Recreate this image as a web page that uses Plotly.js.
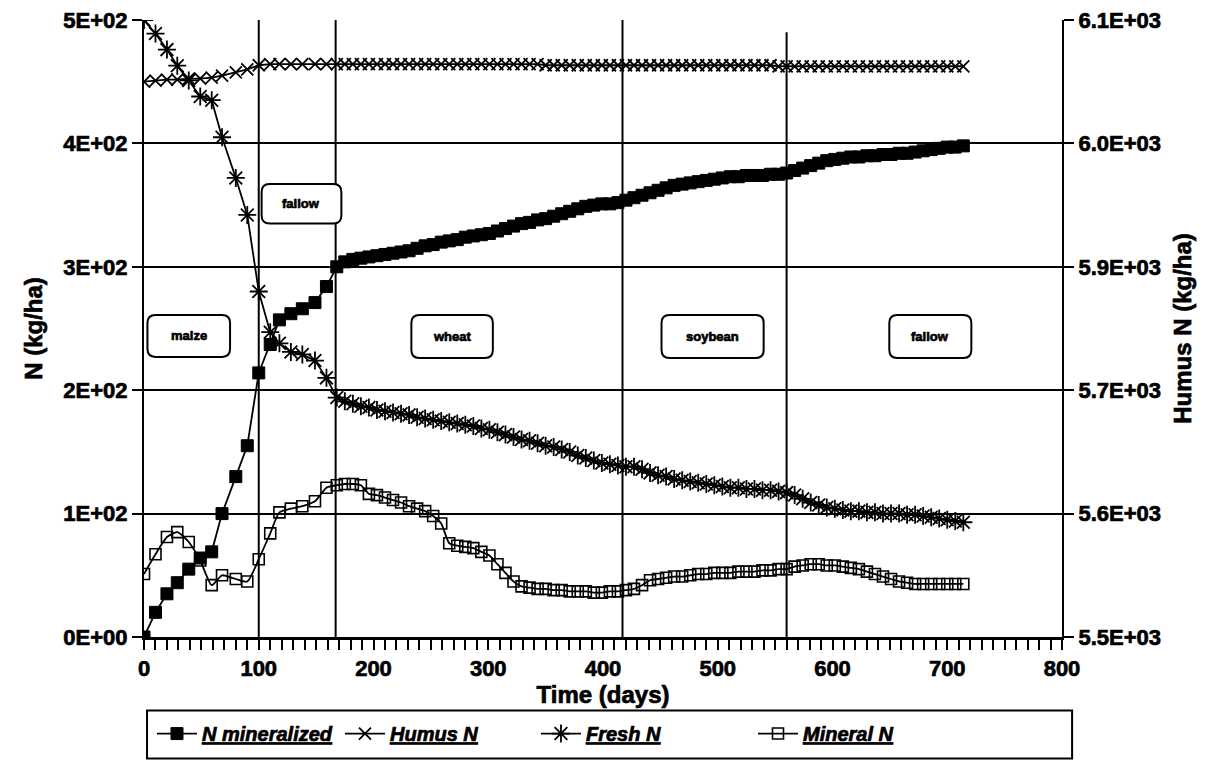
<!DOCTYPE html>
<html>
<head>
<meta charset="utf-8">
<script src="https://cdn.plot.ly/plotly-3.0.1.min.js"></script>
<style>
  html, body { margin: 0; padding: 0; background: #ffffff; }
  #chart { width: 1232px; height: 765px; }
  /* heavier lettering for all chart text */
  #chart text { stroke: #000000; stroke-width: 0.7px; paint-order: stroke; }
</style>
</head>
<body>
<div id="chart"></div>
<script>
// Simulation output days
const days = [0, 10, 20, 29, 39, 49, 59, 68, 80, 90, 100, 110, 118, 128, 138, 149, 159, 168,
  175, 182, 189, 196, 203, 210, 217, 224, 231, 238,
  245, 252, 259, 266, 273, 280, 287, 294, 301, 308,
  315, 322, 329, 336, 343, 350, 357, 364, 371, 378,
  385, 392, 399, 406, 413, 420, 427, 434, 441, 448,
  455, 462, 469, 476, 483, 490, 497, 504, 511, 518,
  525, 532, 539, 546, 553, 560, 567, 574, 581, 588,
  595, 602, 609, 616, 623, 630, 637, 644, 651, 658,
  665, 672, 679, 686, 693, 700, 707, 714];

// Cumulative N mineralized (kg/ha)
const nMineralized = [0, 20, 35, 44, 55, 64, 69, 100, 130, 155, 214, 237, 257, 262, 266, 271, 284, 300,
  304, 306, 307, 308, 309, 310, 311, 312, 313, 315,
  317, 318, 320, 321, 322, 324, 325, 326, 327, 329,
  331, 333, 335, 336, 338, 339, 341, 343, 345, 347,
  349, 350, 351, 351, 352, 354, 356, 358, 360, 362,
  364, 366, 367, 368, 369, 370, 371, 372, 373, 373,
  374, 374, 374, 375, 375, 376, 378, 380, 382, 384,
  386, 387, 388, 389, 389, 390, 390, 391, 391, 392,
  392, 393, 394, 395, 396, 397, 397, 398];

// Humus N pool (kg/ha, right axis)
const humusN = [6040, 6041, 6042, 6042, 6043, 6043, 6044, 6046, 6049, 6052, 6056, 6057, 6057, 6057, 6057, 6057, 6057, 6057,
  6057, 6057, 6057, 6057, 6057, 6057, 6057, 6057, 6057, 6057,
  6057, 6057, 6057, 6057, 6057, 6057, 6057, 6057, 6057, 6057,
  6057, 6057, 6057, 6057, 6057, 6056, 6056, 6056, 6056, 6056,
  6056, 6056, 6056, 6056, 6056, 6056, 6056, 6056, 6056, 6056,
  6056, 6056, 6056, 6056, 6056, 6056, 6056, 6056, 6056, 6056,
  6056, 6056, 6056, 6056, 6055, 6055, 6055, 6055, 6055, 6055,
  6055, 6055, 6055, 6055, 6055, 6055, 6055, 6055, 6055, 6055,
  6055, 6055, 6055, 6055, 6055, 6055, 6055, 6055];

// Fresh organic N (kg/ha)
const freshN = [500, 489, 476, 463, 451, 438, 435, 405, 372, 342, 280, 247, 238, 231, 229, 224, 210, 194,
  191, 189, 187, 186, 184, 183, 182, 181, 180, 178,
  177, 176, 175, 174, 173, 172, 171, 169, 168, 166,
  164, 162, 160, 159, 157, 155, 154, 152, 150, 147,
  145, 143, 141, 140, 139, 138, 138, 136, 133, 131,
  130, 128, 127, 126, 125, 124, 123, 122, 121, 121,
  120, 120, 119, 119, 118, 117, 115, 112, 109, 107,
  105, 104, 103, 102, 102, 101, 101, 100, 100, 100,
  99, 99, 98, 97, 96, 95, 94, 93];

// Soil mineral N (kg/ha)
const mineralN = [51, 67, 81, 85, 77, 62, 42, 50, 47, 45, 63, 84, 101, 104, 106, 110, 121, 123,
  124, 124, 123, 116, 115, 113, 111, 109, 106, 104,
  102, 98, 92, 76, 74, 73, 72, 69, 66, 59,
  52, 45, 41, 40, 39, 39, 38, 38, 37, 37,
  37, 36, 36, 37, 37, 38, 39, 42, 46, 47,
  48, 49, 49, 50, 51, 51, 52, 52, 52, 53,
  53, 53, 54, 54, 55, 55, 57, 58, 59, 59,
  58, 58, 57, 56, 55, 53, 51, 49, 47, 45,
  44, 43, 43, 43, 43, 43, 43, 43];

const seriesNames = ['N mineralized', 'Humus N', 'Fresh N', 'Mineral N'];

const xTickVals = [0, 100, 200, 300, 400, 500, 600, 700, 800];
const leftTickVals = [0, 100, 200, 300, 400, 500];
const leftTickText = ['0E+00', '1E+02', '2E+02', '3E+02', '4E+02', '5E+02'];
const rightTickVals = [5500, 5620, 5740, 5860, 5980, 6100];
const rightTickText = ['5.5E+03', '5.6E+03', '5.7E+03', '5.9E+03', '6.0E+03', '6.1E+03'];

// Crop sequence: season boundaries (days) and labels
const cropBoundaries = [100, 167, 417, 560];
const cropNames = ['maize', 'fallow', 'wheat', 'soybean', 'fallow'];

// Label box extents in axis units (days, kg/ha)
const cropBoxes = [
  { x0: 3, x1: 75, y0: 227, y1: 261 },
  { x0: 102.5, x1: 172, y0: 335, y1: 367 },
  { x0: 233, x1: 304, y0: 226, y1: 261 },
  { x0: 451, x1: 540, y0: 226, y1: 261 },
  { x0: 649.5, x1: 721, y0: 226, y1: 261 }
];
const boundaryTop = [500, 500, 500, 490];

const FONT = 'Liberation Sans, Arial, Helvetica, sans-serif';
const INK = '#000000';

function roundedBox(b) {
  const rx = 7, ry = 6.5;
  return 'M' + (b.x0 + rx) + ',' + b.y0 +
    ' L' + (b.x1 - rx) + ',' + b.y0 +
    ' Q' + b.x1 + ',' + b.y0 + ' ' + b.x1 + ',' + (b.y0 + ry) +
    ' L' + b.x1 + ',' + (b.y1 - ry) +
    ' Q' + b.x1 + ',' + b.y1 + ' ' + (b.x1 - rx) + ',' + b.y1 +
    ' L' + (b.x0 + rx) + ',' + b.y1 +
    ' Q' + b.x0 + ',' + b.y1 + ' ' + b.x0 + ',' + (b.y1 - ry) +
    ' L' + b.x0 + ',' + (b.y0 + ry) +
    ' Q' + b.x0 + ',' + b.y0 + ' ' + (b.x0 + rx) + ',' + b.y0 + ' Z';
}

const traces = [
  {
    x: days, y: nMineralized, name: seriesNames[0], legend: 'legend',
    mode: 'lines+markers', yaxis: 'y',
    line: { color: INK, width: 1.8 },
    marker: { symbol: 'square', size: 12, color: INK, line: { color: INK, width: 1 } }
  },
  {
    x: days, y: humusN, name: seriesNames[1], legend: 'legend2',
    mode: 'lines+markers', yaxis: 'y2',
    line: { color: INK, width: 1.8 },
    marker: { symbol: 'x-thin-open', size: 12, color: INK, line: { color: INK, width: 1.8 } }
  },
  {
    x: days, y: freshN, name: seriesNames[2], legend: 'legend3',
    mode: 'lines+markers', yaxis: 'y',
    line: { color: INK, width: 1.8 },
    marker: { symbol: 'asterisk-open', size: 15, color: INK, line: { color: INK, width: 1.8 } }
  },
  {
    x: days, y: mineralN, name: seriesNames[3], legend: 'legend4',
    mode: 'lines+markers', yaxis: 'y',
    line: { color: INK, width: 1.8, shape: 'spline', smoothing: 0.6 },
    marker: { symbol: 'square-open', size: 11, color: INK, line: { color: INK, width: 1.6 } }
  }
];

const shapes = [];
cropBoundaries.forEach(function (d, i) {
  shapes.push({ type: 'line', xref: 'x', yref: 'y', x0: d, x1: d, y0: 0, y1: boundaryTop[i],
    line: { color: INK, width: 2 }, layer: 'below' });
});
cropBoxes.forEach(function (b) {
  shapes.push({ type: 'path', xref: 'x', yref: 'y', path: roundedBox(b),
    fillcolor: '#ffffff', line: { color: INK, width: 2 }, layer: 'above' });
});
// legend frame
shapes.push({ type: 'rect', xref: 'paper', yref: 'paper', x0: 0.0033, x1: 1.011, y0: -0.197, y1: -0.119,
  line: { color: INK, width: 2 }, fillcolor: 'rgba(0,0,0,0)' });

const annotations = cropNames.map(function (t, i) {
  const b = cropBoxes[i];
  return { x: (b.x0 + b.x1) / 2, y: (b.y0 + b.y1) / 2, xref: 'x', yref: 'y', text: t, showarrow: false,
    font: { family: FONT, size: 13, color: INK, weight: 'bold' } };
});

const legendBase = {
  orientation: 'h', y: -0.1565, yanchor: 'middle', xanchor: 'left',
  bgcolor: 'rgba(0,0,0,0)', borderwidth: 0, itemwidth: 40,
  font: { family: FONT, size: 20, color: INK, weight: 'bold', style: 'italic', lineposition: 'under' }
};

const tickFont = { family: FONT, size: 22, color: INK, weight: 'bold' };
const titleFont = { family: FONT, size: 24, color: INK, weight: 'bold' };

const layout = {
  width: 1232, height: 765,
  margin: { l: 144, r: 170, t: 20, b: 125 },
  paper_bgcolor: '#ffffff', plot_bgcolor: '#ffffff',
  showlegend: true,
  legend: Object.assign({}, legendBase, { x: 0.0087 }),
  legend2: Object.assign({}, legendBase, { x: 0.2135 }),
  legend3: Object.assign({}, legendBase, { x: 0.427 }),
  legend4: Object.assign({}, legendBase, { x: 0.6634 }),
  xaxis: {
    range: [0, 800], tickvals: xTickVals, ticks: 'outside', ticklen: 10, tickwidth: 2, tickcolor: INK,
    minor: { dtick: 10, tick0: 0, ticks: 'outside', ticklen: 10, tickwidth: 2, tickcolor: INK, showgrid: false },
    showline: true, linecolor: INK, linewidth: 3, showgrid: false, zeroline: false,
    tickfont: tickFont,
    title: { text: 'Time (days)', font: titleFont, standoff: 4 }
  },
  yaxis: {
    range: [0, 500], tickvals: leftTickVals, ticktext: leftTickText,
    ticks: 'outside', ticklen: 10, tickwidth: 2, tickcolor: INK,
    showline: true, linecolor: INK, linewidth: 2,
    showgrid: true, gridcolor: INK, gridwidth: 2, zeroline: false,
    tickfont: tickFont,
    title: { text: 'N (kg/ha)', font: titleFont, standoff: 14 }
  },
  yaxis2: {
    range: [5500, 6100], overlaying: 'y', side: 'right',
    tickvals: rightTickVals, ticktext: rightTickText,
    ticks: 'outside', ticklen: 10, tickwidth: 2, tickcolor: INK,
    showline: true, linecolor: INK, linewidth: 2,
    showgrid: false, zeroline: false,
    tickfont: tickFont,
    title: { text: 'Humus N (kg/ha)', font: titleFont, standoff: 14 }
  },
  shapes: shapes,
  annotations: annotations
};

Plotly.newPlot('chart', traces, layout, { displayModeBar: false, staticPlot: true });
</script>
</body>
</html>
